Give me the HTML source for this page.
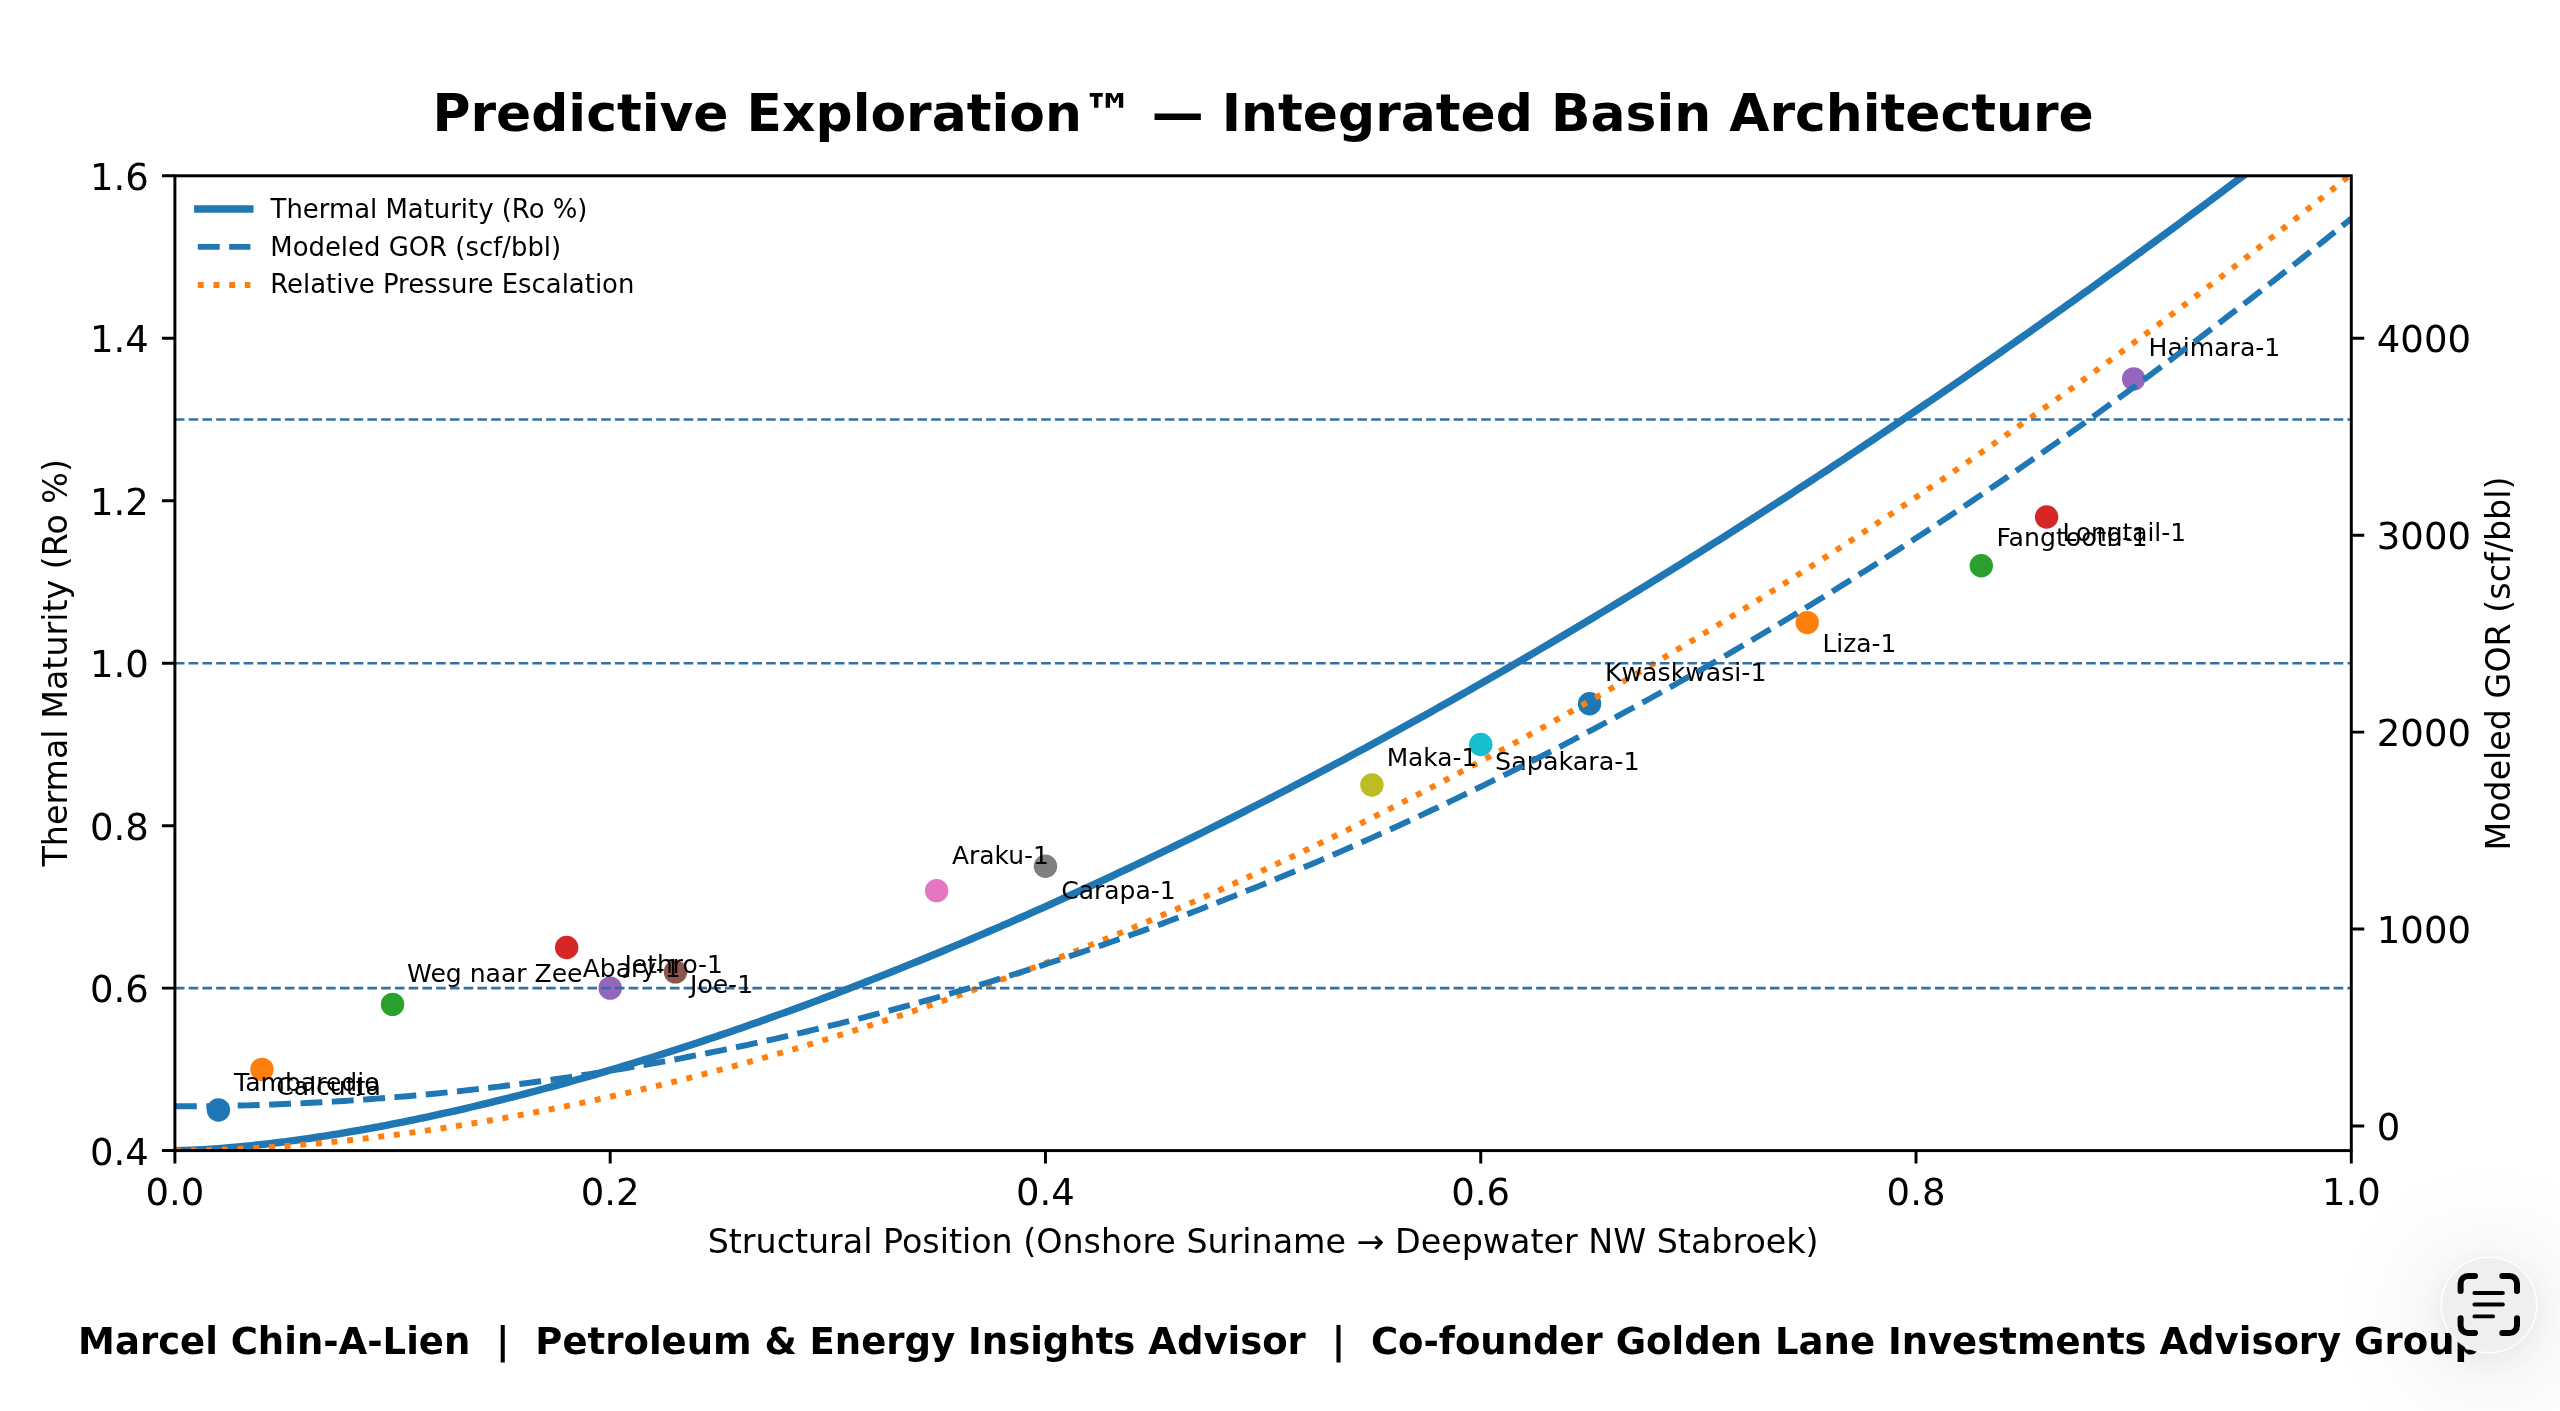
<!DOCTYPE html><html><head><meta charset="utf-8"><title>Predictive Exploration - Integrated Basin Architecture</title>
<style>html,body{margin:0;padding:0;background:#fff;}body{width:2560px;height:1411px;overflow:hidden;position:relative;}svg{display:block;will-change:transform;}.lt{position:absolute;left:2442.1px;top:1257.7px;width:94.0px;height:94.0px;border-radius:50%;background:#efefef;box-shadow:0 0 0 1.5px rgba(255,255,255,0.9),0 8px 30px 6px rgba(0,0,0,0.05),0 12px 110px 25px rgba(0,0,0,0.075);}</style></head><body>
<svg width="2560" height="1411" viewBox="0 0 2560 1411" font-family="&apos;DejaVu Sans&apos;, &apos;Liberation Sans&apos;, sans-serif">
<rect width="2560" height="1411" fill="#ffffff"/>
<defs><clipPath id="ax"><rect x="174.90" y="175.80" width="2176.40" height="974.80"/></clipPath></defs>
<g clip-path="url(#ax)">
<circle cx="218.43" cy="1109.98" r="11.7" fill="#1f77b4"/>
<circle cx="261.96" cy="1069.37" r="11.7" fill="#ff7f0e"/>
<circle cx="392.54" cy="1004.38" r="11.7" fill="#2ca02c"/>
<circle cx="566.65" cy="947.52" r="11.7" fill="#d62728"/>
<circle cx="610.18" cy="988.13" r="11.7" fill="#9467bd"/>
<circle cx="675.47" cy="971.89" r="11.7" fill="#8c564b"/>
<circle cx="936.64" cy="890.65" r="11.7" fill="#e377c2"/>
<circle cx="1045.46" cy="866.28" r="11.7" fill="#7f7f7f"/>
<circle cx="1371.92" cy="785.05" r="11.7" fill="#bcbd22"/>
<circle cx="1480.74" cy="744.43" r="11.7" fill="#17becf"/>
<circle cx="1589.56" cy="703.82" r="11.7" fill="#1f77b4"/>
<circle cx="1807.20" cy="622.58" r="11.7" fill="#ff7f0e"/>
<circle cx="1981.31" cy="565.72" r="11.7" fill="#2ca02c"/>
<circle cx="2046.60" cy="516.98" r="11.7" fill="#d62728"/>
<circle cx="2133.66" cy="378.88" r="11.7" fill="#9467bd"/>
<path d="M174.90,1150.60 L180.35,1150.53 L185.81,1150.38 L191.26,1150.18 L196.72,1149.93 L202.17,1149.64 L207.63,1149.32 L213.08,1148.96 L218.54,1148.57 L223.99,1148.15 L229.45,1147.70 L234.90,1147.22 L240.36,1146.72 L245.81,1146.19 L251.26,1145.63 L256.72,1145.05 L262.17,1144.45 L267.63,1143.82 L273.08,1143.17 L278.54,1142.50 L283.99,1141.81 L289.45,1141.10 L294.90,1140.36 L300.36,1139.61 L305.81,1138.83 L311.27,1138.04 L316.72,1137.22 L322.18,1136.39 L327.63,1135.54 L333.08,1134.67 L338.54,1133.78 L343.99,1132.88 L349.45,1131.95 L354.90,1131.01 L360.36,1130.05 L365.81,1129.08 L371.27,1128.09 L376.72,1127.08 L382.18,1126.05 L387.63,1125.01 L393.09,1123.95 L398.54,1122.88 L403.99,1121.79 L409.45,1120.68 L414.90,1119.56 L420.36,1118.42 L425.81,1117.27 L431.27,1116.10 L436.72,1114.92 L442.18,1113.73 L447.63,1112.51 L453.09,1111.29 L458.54,1110.05 L464.00,1108.79 L469.45,1107.52 L474.91,1106.24 L480.36,1104.94 L485.81,1103.63 L491.27,1102.30 L496.72,1100.96 L502.18,1099.61 L507.63,1098.24 L513.09,1096.86 L518.54,1095.47 L524.00,1094.06 L529.45,1092.64 L534.91,1091.21 L540.36,1089.76 L545.82,1088.30 L551.27,1086.83 L556.72,1085.35 L562.18,1083.85 L567.63,1082.34 L573.09,1080.81 L578.54,1079.28 L584.00,1077.73 L589.45,1076.17 L594.91,1074.59 L600.36,1073.01 L605.82,1071.41 L611.27,1069.80 L616.73,1068.18 L622.18,1066.54 L627.63,1064.90 L633.09,1063.24 L638.54,1061.57 L644.00,1059.89 L649.45,1058.19 L654.91,1056.49 L660.36,1054.77 L665.82,1053.04 L671.27,1051.30 L676.73,1049.55 L682.18,1047.78 L687.64,1046.01 L693.09,1044.22 L698.55,1042.42 L704.00,1040.62 L709.45,1038.80 L714.91,1036.96 L720.36,1035.12 L725.82,1033.27 L731.27,1031.40 L736.73,1029.53 L742.18,1027.64 L747.64,1025.74 L753.09,1023.84 L758.55,1021.92 L764.00,1019.99 L769.46,1018.05 L774.91,1016.09 L780.36,1014.13 L785.82,1012.16 L791.27,1010.18 L796.73,1008.18 L802.18,1006.18 L807.64,1004.16 L813.09,1002.14 L818.55,1000.10 L824.00,998.05 L829.46,996.00 L834.91,993.93 L840.37,991.85 L845.82,989.77 L851.27,987.67 L856.73,985.56 L862.18,983.44 L867.64,981.31 L873.09,979.17 L878.55,977.03 L884.00,974.87 L889.46,972.70 L894.91,970.52 L900.37,968.33 L905.82,966.14 L911.28,963.93 L916.73,961.71 L922.19,959.48 L927.64,957.24 L933.09,955.00 L938.55,952.74 L944.00,950.47 L949.46,948.20 L954.91,945.91 L960.37,943.62 L965.82,941.31 L971.28,939.00 L976.73,936.67 L982.19,934.34 L987.64,931.99 L993.10,929.64 L998.55,927.28 L1004.00,924.91 L1009.46,922.53 L1014.91,920.14 L1020.37,917.74 L1025.82,915.33 L1031.28,912.91 L1036.73,910.48 L1042.19,908.04 L1047.64,905.60 L1053.10,903.14 L1058.55,900.68 L1064.01,898.20 L1069.46,895.72 L1074.92,893.23 L1080.37,890.73 L1085.82,888.22 L1091.28,885.70 L1096.73,883.17 L1102.19,880.64 L1107.64,878.09 L1113.10,875.53 L1118.55,872.97 L1124.01,870.40 L1129.46,867.82 L1134.92,865.23 L1140.37,862.63 L1145.83,860.02 L1151.28,857.40 L1156.73,854.77 L1162.19,852.14 L1167.64,849.50 L1173.10,846.84 L1178.55,844.18 L1184.01,841.51 L1189.46,838.84 L1194.92,836.15 L1200.37,833.45 L1205.83,830.75 L1211.28,828.04 L1216.74,825.31 L1222.19,822.58 L1227.64,819.85 L1233.10,817.10 L1238.55,814.34 L1244.01,811.58 L1249.46,808.81 L1254.92,806.03 L1260.37,803.24 L1265.83,800.44 L1271.28,797.63 L1276.74,794.82 L1282.19,791.99 L1287.65,789.16 L1293.10,786.32 L1298.56,783.48 L1304.01,780.62 L1309.46,777.75 L1314.92,774.88 L1320.37,772.00 L1325.83,769.11 L1331.28,766.21 L1336.74,763.31 L1342.19,760.39 L1347.65,757.47 L1353.10,754.54 L1358.56,751.60 L1364.01,748.65 L1369.47,745.70 L1374.92,742.74 L1380.37,739.76 L1385.83,736.79 L1391.28,733.80 L1396.74,730.80 L1402.19,727.80 L1407.65,724.79 L1413.10,721.77 L1418.56,718.74 L1424.01,715.71 L1429.47,712.66 L1434.92,709.61 L1440.38,706.55 L1445.83,703.48 L1451.28,700.41 L1456.74,697.33 L1462.19,694.23 L1467.65,691.14 L1473.10,688.03 L1478.56,684.91 L1484.01,681.79 L1489.47,678.66 L1494.92,675.52 L1500.38,672.38 L1505.83,669.22 L1511.29,666.06 L1516.74,662.89 L1522.20,659.72 L1527.65,656.53 L1533.10,653.34 L1538.56,650.14 L1544.01,646.93 L1549.47,643.72 L1554.92,640.49 L1560.38,637.26 L1565.83,634.02 L1571.29,630.78 L1576.74,627.52 L1582.20,624.26 L1587.65,620.99 L1593.11,617.72 L1598.56,614.43 L1604.01,611.14 L1609.47,607.84 L1614.92,604.53 L1620.38,601.22 L1625.83,597.90 L1631.29,594.57 L1636.74,591.23 L1642.20,587.89 L1647.65,584.54 L1653.11,581.18 L1658.56,577.81 L1664.02,574.44 L1669.47,571.05 L1674.93,567.67 L1680.38,564.27 L1685.83,560.87 L1691.29,557.45 L1696.74,554.04 L1702.20,550.61 L1707.65,547.18 L1713.11,543.74 L1718.56,540.29 L1724.02,536.83 L1729.47,533.37 L1734.93,529.90 L1740.38,526.42 L1745.84,522.94 L1751.29,519.45 L1756.74,515.95 L1762.20,512.44 L1767.65,508.93 L1773.11,505.41 L1778.56,501.88 L1784.02,498.34 L1789.47,494.80 L1794.93,491.25 L1800.38,487.69 L1805.84,484.13 L1811.29,480.56 L1816.75,476.98 L1822.20,473.39 L1827.65,469.80 L1833.11,466.20 L1838.56,462.60 L1844.02,458.98 L1849.47,455.36 L1854.93,451.73 L1860.38,448.10 L1865.84,444.45 L1871.29,440.81 L1876.75,437.15 L1882.20,433.49 L1887.66,429.81 L1893.11,426.14 L1898.57,422.45 L1904.02,418.76 L1909.47,415.06 L1914.93,411.36 L1920.38,407.64 L1925.84,403.92 L1931.29,400.20 L1936.75,396.46 L1942.20,392.72 L1947.66,388.98 L1953.11,385.22 L1958.57,381.46 L1964.02,377.69 L1969.48,373.92 L1974.93,370.14 L1980.38,366.35 L1985.84,362.55 L1991.29,358.75 L1996.75,354.94 L2002.20,351.12 L2007.66,347.30 L2013.11,343.47 L2018.57,339.63 L2024.02,335.79 L2029.48,331.94 L2034.93,328.08 L2040.39,324.22 L2045.84,320.35 L2051.29,316.47 L2056.75,312.58 L2062.20,308.69 L2067.66,304.80 L2073.11,300.89 L2078.57,296.98 L2084.02,293.06 L2089.48,289.14 L2094.93,285.20 L2100.39,281.27 L2105.84,277.32 L2111.30,273.37 L2116.75,269.41 L2122.21,265.45 L2127.66,261.47 L2133.11,257.50 L2138.57,253.51 L2144.02,249.52 L2149.48,245.52 L2154.93,241.51 L2160.39,237.50 L2165.84,233.48 L2171.30,229.46 L2176.75,225.43 L2182.21,221.39 L2187.66,217.34 L2193.12,213.29 L2198.57,209.24 L2204.02,205.17 L2209.48,201.10 L2214.93,197.02 L2220.39,192.94 L2225.84,188.85 L2231.30,184.75 L2236.75,180.65 L2242.21,176.54 L2247.66,172.42 L2253.12,168.29 L2258.57,164.16 L2264.03,160.03 L2269.48,155.89 L2274.94,151.74 L2280.39,147.58 L2285.84,143.42 L2291.30,139.25 L2296.75,135.07 L2302.21,130.89 L2307.66,126.70 L2313.12,122.51 L2318.57,118.31 L2324.03,114.10 L2329.48,109.89 L2334.94,105.67 L2340.39,101.44 L2345.85,97.21 L2351.30,92.97" fill="none" stroke="#1f77b4" stroke-width="7.40" stroke-linejoin="round" stroke-linecap="square"/>
<path d="M174.90,1150.60 L180.35,1150.58 L185.81,1150.53 L191.26,1150.45 L196.72,1150.35 L202.17,1150.23 L207.63,1150.09 L213.08,1149.93 L218.54,1149.74 L223.99,1149.54 L229.45,1149.32 L234.90,1149.08 L240.36,1148.82 L245.81,1148.55 L251.26,1148.25 L256.72,1147.94 L262.17,1147.61 L267.63,1147.27 L273.08,1146.91 L278.54,1146.53 L283.99,1146.14 L289.45,1145.73 L294.90,1145.30 L300.36,1144.86 L305.81,1144.41 L311.27,1143.93 L316.72,1143.45 L322.18,1142.94 L327.63,1142.43 L333.08,1141.89 L338.54,1141.34 L343.99,1140.78 L349.45,1140.20 L354.90,1139.61 L360.36,1139.01 L365.81,1138.38 L371.27,1137.75 L376.72,1137.10 L382.18,1136.43 L387.63,1135.76 L393.09,1135.06 L398.54,1134.36 L403.99,1133.64 L409.45,1132.90 L414.90,1132.16 L420.36,1131.40 L425.81,1130.62 L431.27,1129.83 L436.72,1129.03 L442.18,1128.21 L447.63,1127.38 L453.09,1126.54 L458.54,1125.69 L464.00,1124.82 L469.45,1123.93 L474.91,1123.04 L480.36,1122.13 L485.81,1121.21 L491.27,1120.27 L496.72,1119.33 L502.18,1118.37 L507.63,1117.39 L513.09,1116.41 L518.54,1115.41 L524.00,1114.39 L529.45,1113.37 L534.91,1112.33 L540.36,1111.28 L545.82,1110.22 L551.27,1109.14 L556.72,1108.06 L562.18,1106.96 L567.63,1105.84 L573.09,1104.72 L578.54,1103.58 L584.00,1102.43 L589.45,1101.27 L594.91,1100.09 L600.36,1098.90 L605.82,1097.71 L611.27,1096.49 L616.73,1095.27 L622.18,1094.03 L627.63,1092.79 L633.09,1091.53 L638.54,1090.26 L644.00,1088.97 L649.45,1087.67 L654.91,1086.37 L660.36,1085.05 L665.82,1083.71 L671.27,1082.37 L676.73,1081.02 L682.18,1079.65 L687.64,1078.27 L693.09,1076.88 L698.55,1075.47 L704.00,1074.06 L709.45,1072.63 L714.91,1071.20 L720.36,1069.75 L725.82,1068.28 L731.27,1066.81 L736.73,1065.33 L742.18,1063.83 L747.64,1062.32 L753.09,1060.80 L758.55,1059.27 L764.00,1057.73 L769.46,1056.18 L774.91,1054.61 L780.36,1053.03 L785.82,1051.45 L791.27,1049.85 L796.73,1048.24 L802.18,1046.61 L807.64,1044.98 L813.09,1043.34 L818.55,1041.68 L824.00,1040.01 L829.46,1038.33 L834.91,1036.64 L840.37,1034.94 L845.82,1033.23 L851.27,1031.51 L856.73,1029.77 L862.18,1028.03 L867.64,1026.27 L873.09,1024.50 L878.55,1022.72 L884.00,1020.93 L889.46,1019.13 L894.91,1017.32 L900.37,1015.50 L905.82,1013.66 L911.28,1011.82 L916.73,1009.96 L922.19,1008.09 L927.64,1006.21 L933.09,1004.33 L938.55,1002.43 L944.00,1000.52 L949.46,998.59 L954.91,996.66 L960.37,994.72 L965.82,992.76 L971.28,990.80 L976.73,988.82 L982.19,986.84 L987.64,984.84 L993.10,982.83 L998.55,980.81 L1004.00,978.78 L1009.46,976.74 L1014.91,974.69 L1020.37,972.63 L1025.82,970.56 L1031.28,968.47 L1036.73,966.38 L1042.19,964.27 L1047.64,962.16 L1053.10,960.03 L1058.55,957.90 L1064.01,955.75 L1069.46,953.59 L1074.92,951.43 L1080.37,949.25 L1085.82,947.06 L1091.28,944.86 L1096.73,942.65 L1102.19,940.43 L1107.64,938.20 L1113.10,935.96 L1118.55,933.70 L1124.01,931.44 L1129.46,929.17 L1134.92,926.89 L1140.37,924.59 L1145.83,922.29 L1151.28,919.97 L1156.73,917.65 L1162.19,915.32 L1167.64,912.97 L1173.10,910.61 L1178.55,908.25 L1184.01,905.87 L1189.46,903.49 L1194.92,901.09 L1200.37,898.68 L1205.83,896.26 L1211.28,893.84 L1216.74,891.40 L1222.19,888.95 L1227.64,886.49 L1233.10,884.02 L1238.55,881.54 L1244.01,879.05 L1249.46,876.55 L1254.92,874.05 L1260.37,871.53 L1265.83,869.00 L1271.28,866.46 L1276.74,863.91 L1282.19,861.35 L1287.65,858.78 L1293.10,856.20 L1298.56,853.60 L1304.01,851.00 L1309.46,848.39 L1314.92,845.77 L1320.37,843.14 L1325.83,840.50 L1331.28,837.85 L1336.74,835.19 L1342.19,832.52 L1347.65,829.84 L1353.10,827.15 L1358.56,824.45 L1364.01,821.74 L1369.47,819.01 L1374.92,816.28 L1380.37,813.54 L1385.83,810.79 L1391.28,808.03 L1396.74,805.26 L1402.19,802.48 L1407.65,799.69 L1413.10,796.89 L1418.56,794.08 L1424.01,791.26 L1429.47,788.43 L1434.92,785.59 L1440.38,782.74 L1445.83,779.88 L1451.28,777.01 L1456.74,774.13 L1462.19,771.24 L1467.65,768.35 L1473.10,765.44 L1478.56,762.52 L1484.01,759.59 L1489.47,756.65 L1494.92,753.70 L1500.38,750.75 L1505.83,747.78 L1511.29,744.80 L1516.74,741.82 L1522.20,738.82 L1527.65,735.81 L1533.10,732.80 L1538.56,729.77 L1544.01,726.74 L1549.47,723.69 L1554.92,720.64 L1560.38,717.57 L1565.83,714.50 L1571.29,711.41 L1576.74,708.32 L1582.20,705.22 L1587.65,702.11 L1593.11,698.98 L1598.56,695.85 L1604.01,692.71 L1609.47,689.56 L1614.92,686.40 L1620.38,683.23 L1625.83,680.05 L1631.29,676.86 L1636.74,673.66 L1642.20,670.45 L1647.65,667.23 L1653.11,664.00 L1658.56,660.77 L1664.02,657.52 L1669.47,654.26 L1674.93,651.00 L1680.38,647.72 L1685.83,644.44 L1691.29,641.14 L1696.74,637.84 L1702.20,634.53 L1707.65,631.20 L1713.11,627.87 L1718.56,624.53 L1724.02,621.18 L1729.47,617.82 L1734.93,614.45 L1740.38,611.07 L1745.84,607.68 L1751.29,604.28 L1756.74,600.87 L1762.20,597.45 L1767.65,594.03 L1773.11,590.59 L1778.56,587.14 L1784.02,583.69 L1789.47,580.23 L1794.93,576.75 L1800.38,573.27 L1805.84,569.78 L1811.29,566.27 L1816.75,562.76 L1822.20,559.24 L1827.65,555.71 L1833.11,552.17 L1838.56,548.62 L1844.02,545.07 L1849.47,541.50 L1854.93,537.92 L1860.38,534.34 L1865.84,530.74 L1871.29,527.14 L1876.75,523.52 L1882.20,519.90 L1887.66,516.27 L1893.11,512.63 L1898.57,508.98 L1904.02,505.32 L1909.47,501.65 L1914.93,497.97 L1920.38,494.28 L1925.84,490.58 L1931.29,486.88 L1936.75,483.16 L1942.20,479.44 L1947.66,475.70 L1953.11,471.96 L1958.57,468.21 L1964.02,464.45 L1969.48,460.67 L1974.93,456.89 L1980.38,453.11 L1985.84,449.31 L1991.29,445.50 L1996.75,441.68 L2002.20,437.86 L2007.66,434.02 L2013.11,430.18 L2018.57,426.33 L2024.02,422.46 L2029.48,418.59 L2034.93,414.71 L2040.39,410.82 L2045.84,406.92 L2051.29,403.01 L2056.75,399.10 L2062.20,395.17 L2067.66,391.24 L2073.11,387.29 L2078.57,383.34 L2084.02,379.38 L2089.48,375.40 L2094.93,371.42 L2100.39,367.43 L2105.84,363.44 L2111.30,359.43 L2116.75,355.41 L2122.21,351.38 L2127.66,347.35 L2133.11,343.31 L2138.57,339.25 L2144.02,335.19 L2149.48,331.12 L2154.93,327.04 L2160.39,322.95 L2165.84,318.85 L2171.30,314.75 L2176.75,310.63 L2182.21,306.51 L2187.66,302.37 L2193.12,298.23 L2198.57,294.08 L2204.02,289.92 L2209.48,285.75 L2214.93,281.57 L2220.39,277.38 L2225.84,273.18 L2231.30,268.98 L2236.75,264.76 L2242.21,260.54 L2247.66,256.31 L2253.12,252.07 L2258.57,247.81 L2264.03,243.56 L2269.48,239.29 L2274.94,235.01 L2280.39,230.72 L2285.84,226.43 L2291.30,222.13 L2296.75,217.81 L2302.21,213.49 L2307.66,209.16 L2313.12,204.82 L2318.57,200.47 L2324.03,196.12 L2329.48,191.75 L2334.94,187.38 L2340.39,182.99 L2345.85,178.60 L2351.30,174.20" fill="none" stroke="#ff7f0e" stroke-width="5.92" stroke-dasharray="5.92 9.77" stroke-linejoin="round"/>
<line x1="174.90" y1="988.13" x2="2351.30" y2="988.13" stroke="#3271a8" stroke-width="2.59" stroke-dasharray="9.60 4.15"/>
<line x1="174.90" y1="663.20" x2="2351.30" y2="663.20" stroke="#3271a8" stroke-width="2.59" stroke-dasharray="9.60 4.15"/>
<line x1="174.90" y1="419.50" x2="2351.30" y2="419.50" stroke="#3271a8" stroke-width="2.59" stroke-dasharray="9.60 4.15"/>
</g>
<g font-size="25.05" fill="#000">
<text x="234.00" y="1091.00">Tambaredjo</text>
<text x="276.30" y="1094.50">Calcutta</text>
<text x="407.10" y="982.00">Weg naar Zee</text>
<text x="582.70" y="976.50">Abary-1</text>
<text x="624.50" y="972.50" font-size="24.90">Jethro-1</text>
<text x="690.00" y="993.30">Joe-1</text>
<text x="952.00" y="863.80" font-size="24.90">Araku-1</text>
<text x="1061.20" y="899.10" font-size="25.02">Carapa-1</text>
<text x="1386.70" y="765.70" font-size="24.85">Maka-1</text>
<text x="1495.10" y="769.80" font-size="25.40">Sapakara-1</text>
<text x="1605.00" y="680.50" font-size="25.18">Kwaskwasi-1</text>
<text x="1822.40" y="651.80" font-size="24.90">Liza-1</text>
<text x="1996.40" y="546.40" font-size="25.17">Fangtooth-1</text>
<text x="2062.50" y="541.40" font-size="24.82">Longtail-1</text>
<text x="2148.50" y="355.50" font-size="25.12">Haimara-1</text>
</g>
<line x1="197.80" y1="209.0" x2="249.80" y2="209.0" stroke="#1f77b4" stroke-width="7.40" stroke-linecap="square"/>
<line x1="197.80" y1="246.85" x2="250.40" y2="246.85" stroke="#1f77b4" stroke-width="5.92" stroke-dasharray="21.90 9.47"/>
<line x1="197.80" y1="285.0" x2="250.40" y2="285.0" stroke="#ff7f0e" stroke-width="5.92" stroke-dasharray="5.92 9.77"/>
<g font-size="25.9" fill="#000">
<text x="270.6" y="217.7">Thermal Maturity (Ro %)</text>
<text x="270.3" y="256.2">Modeled GOR (scf/bbl)</text>
<text x="270.3" y="293.2">Relative Pressure Escalation</text>
</g>
<g clip-path="url(#ax)"><path d="M174.90,1106.29 L180.35,1106.29 L185.81,1106.27 L191.26,1106.24 L196.72,1106.20 L202.17,1106.15 L207.63,1106.09 L213.08,1106.02 L218.54,1105.93 L223.99,1105.84 L229.45,1105.73 L234.90,1105.62 L240.36,1105.49 L245.81,1105.35 L251.26,1105.20 L256.72,1105.04 L262.17,1104.86 L267.63,1104.68 L273.08,1104.48 L278.54,1104.28 L283.99,1104.06 L289.45,1103.83 L294.90,1103.59 L300.36,1103.34 L305.81,1103.08 L311.27,1102.81 L316.72,1102.52 L322.18,1102.23 L327.63,1101.92 L333.08,1101.60 L338.54,1101.27 L343.99,1100.93 L349.45,1100.58 L354.90,1100.22 L360.36,1099.84 L365.81,1099.46 L371.27,1099.06 L376.72,1098.66 L382.18,1098.24 L387.63,1097.81 L393.09,1097.37 L398.54,1096.92 L403.99,1096.45 L409.45,1095.98 L414.90,1095.49 L420.36,1095.00 L425.81,1094.49 L431.27,1093.97 L436.72,1093.44 L442.18,1092.90 L447.63,1092.35 L453.09,1091.79 L458.54,1091.21 L464.00,1090.63 L469.45,1090.03 L474.91,1089.42 L480.36,1088.80 L485.81,1088.17 L491.27,1087.53 L496.72,1086.88 L502.18,1086.22 L507.63,1085.54 L513.09,1084.85 L518.54,1084.16 L524.00,1083.45 L529.45,1082.73 L534.91,1082.00 L540.36,1081.26 L545.82,1080.51 L551.27,1079.74 L556.72,1078.97 L562.18,1078.18 L567.63,1077.38 L573.09,1076.57 L578.54,1075.75 L584.00,1074.92 L589.45,1074.08 L594.91,1073.23 L600.36,1072.36 L605.82,1071.49 L611.27,1070.60 L616.73,1069.70 L622.18,1068.79 L627.63,1067.87 L633.09,1066.94 L638.54,1066.00 L644.00,1065.05 L649.45,1064.08 L654.91,1063.11 L660.36,1062.12 L665.82,1061.12 L671.27,1060.11 L676.73,1059.09 L682.18,1058.06 L687.64,1057.02 L693.09,1055.96 L698.55,1054.90 L704.00,1053.82 L709.45,1052.73 L714.91,1051.64 L720.36,1050.53 L725.82,1049.41 L731.27,1048.27 L736.73,1047.13 L742.18,1045.98 L747.64,1044.81 L753.09,1043.63 L758.55,1042.45 L764.00,1041.25 L769.46,1040.04 L774.91,1038.82 L780.36,1037.58 L785.82,1036.34 L791.27,1035.08 L796.73,1033.82 L802.18,1032.54 L807.64,1031.25 L813.09,1029.95 L818.55,1028.64 L824.00,1027.32 L829.46,1025.99 L834.91,1024.65 L840.37,1023.29 L845.82,1021.92 L851.27,1020.55 L856.73,1019.16 L862.18,1017.76 L867.64,1016.35 L873.09,1014.93 L878.55,1013.49 L884.00,1012.05 L889.46,1010.59 L894.91,1009.13 L900.37,1007.65 L905.82,1006.16 L911.28,1004.66 L916.73,1003.15 L922.19,1001.63 L927.64,1000.09 L933.09,998.55 L938.55,996.99 L944.00,995.42 L949.46,993.85 L954.91,992.26 L960.37,990.66 L965.82,989.05 L971.28,987.42 L976.73,985.79 L982.19,984.14 L987.64,982.49 L993.10,980.82 L998.55,979.14 L1004.00,977.45 L1009.46,975.75 L1014.91,974.04 L1020.37,972.32 L1025.82,970.58 L1031.28,968.84 L1036.73,967.08 L1042.19,965.31 L1047.64,963.53 L1053.10,961.74 L1058.55,959.94 L1064.01,958.13 L1069.46,956.31 L1074.92,954.47 L1080.37,952.63 L1085.82,950.77 L1091.28,948.90 L1096.73,947.02 L1102.19,945.13 L1107.64,943.23 L1113.10,941.32 L1118.55,939.39 L1124.01,937.46 L1129.46,935.51 L1134.92,933.55 L1140.37,931.59 L1145.83,929.61 L1151.28,927.61 L1156.73,925.61 L1162.19,923.60 L1167.64,921.58 L1173.10,919.54 L1178.55,917.49 L1184.01,915.44 L1189.46,913.37 L1194.92,911.29 L1200.37,909.20 L1205.83,907.09 L1211.28,904.98 L1216.74,902.86 L1222.19,900.72 L1227.64,898.57 L1233.10,896.41 L1238.55,894.25 L1244.01,892.06 L1249.46,889.87 L1254.92,887.67 L1260.37,885.46 L1265.83,883.23 L1271.28,881.00 L1276.74,878.75 L1282.19,876.49 L1287.65,874.22 L1293.10,871.94 L1298.56,869.65 L1304.01,867.34 L1309.46,865.03 L1314.92,862.70 L1320.37,860.37 L1325.83,858.02 L1331.28,855.66 L1336.74,853.29 L1342.19,850.91 L1347.65,848.52 L1353.10,846.11 L1358.56,843.70 L1364.01,841.27 L1369.47,838.84 L1374.92,836.39 L1380.37,833.93 L1385.83,831.46 L1391.28,828.98 L1396.74,826.49 L1402.19,823.98 L1407.65,821.47 L1413.10,818.94 L1418.56,816.40 L1424.01,813.85 L1429.47,811.29 L1434.92,808.72 L1440.38,806.14 L1445.83,803.55 L1451.28,800.94 L1456.74,798.33 L1462.19,795.70 L1467.65,793.07 L1473.10,790.42 L1478.56,787.76 L1484.01,785.09 L1489.47,782.40 L1494.92,779.71 L1500.38,777.01 L1505.83,774.29 L1511.29,771.56 L1516.74,768.82 L1522.20,766.08 L1527.65,763.31 L1533.10,760.54 L1538.56,757.76 L1544.01,754.97 L1549.47,752.16 L1554.92,749.35 L1560.38,746.52 L1565.83,743.68 L1571.29,740.83 L1576.74,737.97 L1582.20,735.10 L1587.65,732.21 L1593.11,729.32 L1598.56,726.42 L1604.01,723.50 L1609.47,720.57 L1614.92,717.63 L1620.38,714.68 L1625.83,711.72 L1631.29,708.75 L1636.74,705.77 L1642.20,702.77 L1647.65,699.77 L1653.11,696.75 L1658.56,693.72 L1664.02,690.68 L1669.47,687.63 L1674.93,684.57 L1680.38,681.50 L1685.83,678.41 L1691.29,675.32 L1696.74,672.21 L1702.20,669.09 L1707.65,665.97 L1713.11,662.83 L1718.56,659.68 L1724.02,656.51 L1729.47,653.34 L1734.93,650.16 L1740.38,646.96 L1745.84,643.76 L1751.29,640.54 L1756.74,637.31 L1762.20,634.07 L1767.65,630.82 L1773.11,627.56 L1778.56,624.28 L1784.02,621.00 L1789.47,617.70 L1794.93,614.39 L1800.38,611.08 L1805.84,607.75 L1811.29,604.41 L1816.75,601.06 L1822.20,597.69 L1827.65,594.32 L1833.11,590.93 L1838.56,587.54 L1844.02,584.13 L1849.47,580.71 L1854.93,577.28 L1860.38,573.84 L1865.84,570.39 L1871.29,566.93 L1876.75,563.45 L1882.20,559.97 L1887.66,556.47 L1893.11,552.96 L1898.57,549.45 L1904.02,545.92 L1909.47,542.37 L1914.93,538.82 L1920.38,535.26 L1925.84,531.68 L1931.29,528.10 L1936.75,524.50 L1942.20,520.89 L1947.66,517.27 L1953.11,513.64 L1958.57,510.00 L1964.02,506.35 L1969.48,502.69 L1974.93,499.01 L1980.38,495.33 L1985.84,491.63 L1991.29,487.92 L1996.75,484.20 L2002.20,480.47 L2007.66,476.73 L2013.11,472.98 L2018.57,469.21 L2024.02,465.44 L2029.48,461.65 L2034.93,457.85 L2040.39,454.04 L2045.84,450.22 L2051.29,446.39 L2056.75,442.55 L2062.20,438.70 L2067.66,434.83 L2073.11,430.96 L2078.57,427.07 L2084.02,423.17 L2089.48,419.26 L2094.93,415.34 L2100.39,411.41 L2105.84,407.47 L2111.30,403.51 L2116.75,399.55 L2122.21,395.57 L2127.66,391.59 L2133.11,387.59 L2138.57,383.58 L2144.02,379.56 L2149.48,375.53 L2154.93,371.48 L2160.39,367.43 L2165.84,363.36 L2171.30,359.29 L2176.75,355.20 L2182.21,351.10 L2187.66,346.99 L2193.12,342.87 L2198.57,338.74 L2204.02,334.59 L2209.48,330.44 L2214.93,326.27 L2220.39,322.10 L2225.84,317.91 L2231.30,313.71 L2236.75,309.50 L2242.21,305.28 L2247.66,301.05 L2253.12,296.80 L2258.57,292.55 L2264.03,288.28 L2269.48,284.00 L2274.94,279.72 L2280.39,275.42 L2285.84,271.11 L2291.30,266.78 L2296.75,262.45 L2302.21,258.11 L2307.66,253.75 L2313.12,249.39 L2318.57,245.01 L2324.03,240.62 L2329.48,236.22 L2334.94,231.81 L2340.39,227.39 L2345.85,222.95 L2351.30,218.51" fill="none" stroke="#1f77b4" stroke-width="5.92" stroke-dasharray="21.92 9.48" stroke-linejoin="round"/></g>
<rect x="174.90" y="175.80" width="2176.40" height="974.80" fill="none" stroke="#000" stroke-width="2.96" stroke-linejoin="miter"/>
<path d="M174.90,1150.60 V1163.55 M610.18,1150.60 V1163.55 M1045.46,1150.60 V1163.55 M1480.74,1150.60 V1163.55 M1916.02,1150.60 V1163.55 M2351.30,1150.60 V1163.55 M174.90,1150.60 H161.95 M174.90,988.13 H161.95 M174.90,825.67 H161.95 M174.90,663.20 H161.95 M174.90,500.73 H161.95 M174.90,338.27 H161.95 M174.90,175.80 H161.95 M2351.30,1125.98 H2364.25 M2351.30,929.05 H2364.25 M2351.30,732.13 H2364.25 M2351.30,535.20 H2364.25 M2351.30,338.27 H2364.25" stroke="#000" stroke-width="2.96" fill="none"/>
<g font-size="37" fill="#000">
<text x="174.90" y="1205.3" text-anchor="middle">0.0</text>
<text x="610.18" y="1205.3" text-anchor="middle">0.2</text>
<text x="1045.46" y="1205.3" text-anchor="middle">0.4</text>
<text x="1480.74" y="1205.3" text-anchor="middle">0.6</text>
<text x="1916.02" y="1205.3" text-anchor="middle">0.8</text>
<text x="2351.30" y="1205.3" text-anchor="middle">1.0</text>
<text x="148.8" y="1164.50" text-anchor="end">0.4</text>
<text x="148.8" y="1002.03" text-anchor="end">0.6</text>
<text x="148.8" y="839.57" text-anchor="end">0.8</text>
<text x="148.8" y="677.10" text-anchor="end">1.0</text>
<text x="148.8" y="514.63" text-anchor="end">1.2</text>
<text x="148.8" y="352.17" text-anchor="end">1.4</text>
<text x="148.8" y="189.70" text-anchor="end">1.6</text>
<text x="2376.8" y="1139.88">0</text>
<text x="2376.8" y="942.95">1000</text>
<text x="2376.8" y="746.03">2000</text>
<text x="2376.8" y="549.10">3000</text>
<text x="2376.8" y="352.17">4000</text>
</g>
<text x="1263.10" y="1253.0" font-size="33.3" text-anchor="middle">Structural Position (Onshore Suriname → Deepwater NW Stabroek)</text>
<text transform="translate(66.9,866.5) rotate(-90)" font-size="33.3">Thermal Maturity (Ro %)</text>
<text transform="translate(2510.0,850.6) rotate(-90)" font-size="33.3">Modeled GOR (scf/bbl)</text>
<text x="1263.10" y="130.6" font-size="51.9" font-weight="bold" text-anchor="middle">Predictive Exploration™ — Integrated Basin Architecture</text>
<text x="78.1" y="1353.7" font-size="37" font-weight="bold" style="white-space:pre">Marcel Chin-A-Lien  |  Petroleum &amp; Energy Insights Advisor  |  Co-founder Golden Lane Investments Advisory Group</text>
</svg>
<div class="lt"></div>
<svg width="2560" height="1411" style="position:absolute;left:0;top:0" viewBox="0 0 2560 1411"><g fill="none" stroke="#000" stroke-linecap="round" stroke-linejoin="round"><path stroke-width="6" d="M2460.6,1291 V1283.5 A7.5,7.5 0 0 1 2468.1,1276 H2475 M2502.3,1276 H2509.5 A7.5,7.5 0 0 1 2517,1283.5 V1291 M2460.6,1318.2 V1325.5 A7.5,7.5 0 0 0 2468.1,1333 H2475 M2502.3,1333 H2509.5 A7.5,7.5 0 0 0 2517,1325.5 V1318.2"/><path stroke-width="3.9" d="M2474.4,1293 H2502.9 M2474.4,1304.5 H2502.9 M2474.4,1316.4 H2493.1"/></g></svg>
</body></html>
